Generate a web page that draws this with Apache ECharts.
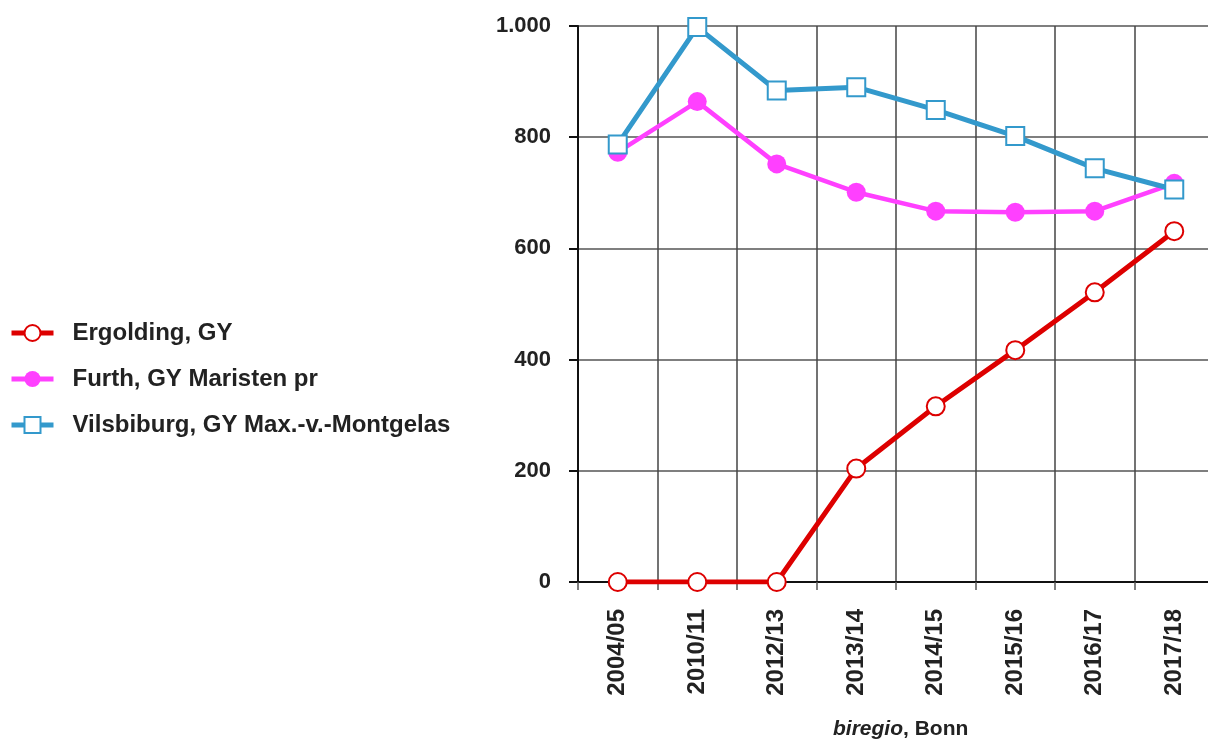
<!DOCTYPE html>
<html>
<head>
<meta charset="utf-8">
<script src="https://cdn.jsdelivr.net/npm/echarts@6/dist/echarts.min.js"></script>
<style>
  html, body { margin: 0; padding: 0; background: #fff; }
  #chart { width: 1208px; height: 745px; }
</style>
</head>
<body>
<div id="chart"></div>
<script>
// Schuljahre
const categories = ['2004/05', '2010/11', '2012/13', '2013/14', '2014/15', '2015/16', '2016/17', '2017/18']

// Schülerzahlen
const ergolding = [0, 0, 0, 204, 316, 417, 521, 631]
const furth = [773, 864, 752, 701, 667, 665, 667, 717]
const vilsbiburg = [787, 998, 884, 890, 849, 802, 744, 706]

const yTicks = { min: 0, max: 1000, interval: 200 }

const FONT = '"Liberation Sans", Arial, sans-serif'
const TEXT = '#222'

const chart = echarts.init(document.getElementById('chart'))

const option = {
  animation: false,
  backgroundColor: '#fff',
  grid: {
    left: 578,
    width: 636,
    top: 26,
    bottom: 163,
    outerBoundsMode: 'none',
  },
  legend: {
    orient: 'vertical',
    left: 4,
    top: 316,
    itemWidth: 42,
    itemHeight: 20,
    itemGap: 22,
    textStyle: {
      fontFamily: FONT,
      fontWeight: 'bold',
      fontSize: 24,
      color: TEXT,
      padding: [0, 0, 0, 14],
    },
    data: [
      { name: 'Ergolding, GY', lineStyle: { width: 5 } },
      { name: 'Furth, GY Maristen pr', lineStyle: { width: 5 } },
      { name: 'Vilsbiburg, GY Max.-v.-Montgelas', lineStyle: { width: 5 } },
    ],
  },
  xAxis: {
    type: 'category',
    data: categories,
    boundaryGap: true,
    axisLine: { lineStyle: { color: '#111', width: 2 } },
    axisTick: { show: true, length: 8, lineStyle: { color: '#555', width: 1.5 } },
    axisLabel: {
      rotate: 90,
      margin: 27,
      fontFamily: FONT,
      fontWeight: 'bold',
      fontSize: 24,
      color: TEXT,
    },
    splitLine: { show: true, lineStyle: { color: '#444', width: 1.5 } },
  },
  yAxis: {
    type: 'value',
    min: yTicks.min,
    max: yTicks.max,
    interval: yTicks.interval,
    axisLine: { show: true, lineStyle: { color: '#111', width: 2 } },
    axisTick: { show: true, length: 9, lineStyle: { color: '#111', width: 2 } },
    axisLabel: {
      margin: 27,
      fontFamily: FONT,
      fontWeight: 'bold',
      fontSize: 22,
      color: TEXT,
      formatter: (v) => v === 1000 ? '1.000' : String(v),
    },
    splitLine: { lineStyle: { color: '#555', width: 1.5 } },
  },
  series: [
    {
      name: 'Furth, GY Maristen pr',
      type: 'line',
      data: furth,
      symbol: 'circle',
      symbolSize: 19,
      z: 2,
      lineStyle: { color: '#ff40ff', width: 4.5 },
      itemStyle: { color: '#ff40ff' },
    },
    {
      name: 'Vilsbiburg, GY Max.-v.-Montgelas',
      type: 'line',
      data: vilsbiburg,
      symbol: 'emptyRect',
      symbolSize: 18,
      z: 3,
      lineStyle: { color: '#3399cc', width: 5 },
      itemStyle: { color: '#3399cc', borderWidth: 2.5 },
    },
    {
      name: 'Ergolding, GY',
      type: 'line',
      data: ergolding,
      symbol: 'emptyCircle',
      symbolSize: 18,
      z: 4,
      lineStyle: { color: '#dd0000', width: 5 },
      itemStyle: { color: '#dd0000', borderWidth: 2.5 },
    },
  ],
  graphic: [
    {
      type: 'text',
      left: 833,
      top: 719,
      style: {
        text: '{i|biregio}{n|, Bonn}',
        rich: {
          i: { fontFamily: FONT, fontWeight: 'bold', fontStyle: 'italic', fontSize: 21, fill: TEXT },
          n: { fontFamily: FONT, fontWeight: 'bold', fontSize: 21, fill: TEXT },
        },
      },
    },
  ],
}

chart.setOption(option)
</script>
</body>
</html>
